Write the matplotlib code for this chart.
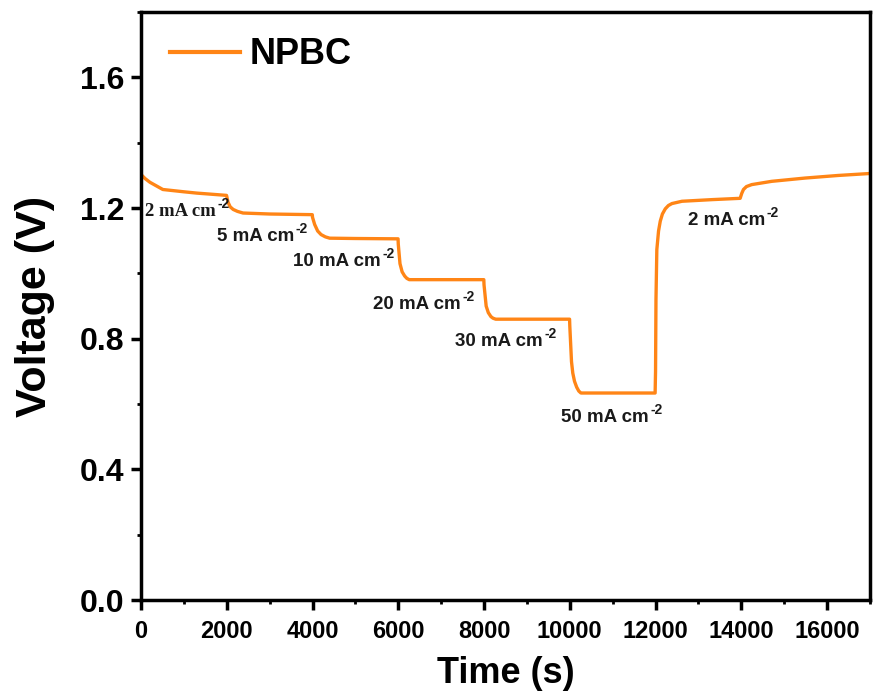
import numpy as np
import matplotlib
matplotlib.use('Agg')
import matplotlib.pyplot as plt
from matplotlib.ticker import MultipleLocator

plt.rcParams['font.family'] = ['Liberation Sans', 'DejaVu Sans']
plt.rcParams['font.weight'] = 'bold'

# galvanostatic discharge
time_s = [0, 100, 210, 510, 1000, 1300, 1600, 1995,
          2000, 2030, 2080, 2150, 2250, 2380, 3000, 3995,
          4000, 4050, 4120, 4200, 4300, 4400, 5000, 5995,
          6000, 6040, 6090, 6150, 6200, 6256, 7000, 7995,
          8000, 8050, 8100, 8160, 8210, 8273, 9000, 9995,
          10000, 10040, 10070, 10110, 10160, 10210, 10260, 11000, 11990,
          12000, 12010, 12030, 12070, 12110, 12160, 12228, 12300, 12383, 12616, 13314, 13973,
          14010, 14050, 14120, 14243, 14708, 15484, 16260, 17000]
voltage_v = [1.303, 1.290, 1.279, 1.257, 1.250, 1.246, 1.243, 1.239,
             1.236, 1.218, 1.204, 1.196, 1.190, 1.185, 1.182, 1.180,
             1.172, 1.150, 1.130, 1.119, 1.112, 1.108, 1.107, 1.106,
             1.090, 1.030, 1.005, 0.992, 0.985, 0.981, 0.981, 0.981,
             0.965, 0.900, 0.880, 0.868, 0.863, 0.860, 0.860, 0.860,
             0.840, 0.730, 0.695, 0.670, 0.652, 0.640, 0.634, 0.634, 0.634,
             0.700, 0.920, 1.073, 1.130, 1.160, 1.182, 1.198, 1.208, 1.214, 1.221, 1.226, 1.230,
             1.245, 1.257, 1.266, 1.272, 1.282, 1.292, 1.300, 1.306]

label_text = ['2 mA cm', '5 mA cm', '10 mA cm', '20 mA cm', '30 mA cm', '50 mA cm', '2 mA cm']
label_t = [95, 1765, 3550, 5420, 7330, 9790, 12750]
label_v = [1.190, 1.112, 1.037, 0.904, 0.791, 0.559, 1.162]
label_serif = [True, False, False, False, False, False, False]

fig = plt.figure(figsize=(8.73, 6.97), dpi=100)
ax = fig.add_axes([0.1615, 0.139, 0.835, 0.8436])

ax.plot(time_s, voltage_v, color='#FF8516', lw=2.4, label='NPBC')

for txt, t, v, serif in zip(label_text, label_t, label_v, label_serif):
    fam = ['Liberation Serif', 'DejaVu Serif'] if serif else ['Liberation Sans', 'DejaVu Sans']
    w = 'bold' if (serif or txt[0] != '5') else 'semibold'
    main = ax.text(t, v, txt, fontsize=13.5, fontweight=w, family=fam,
                   ha='left', va='center', color='#1a1a1a')
    ax.annotate('-2', xy=(1.02, 0.95), xycoords=main, fontsize=10, fontweight=w,
                family=['Liberation Sans', 'DejaVu Sans'], ha='left', va='center',
                color='#1a1a1a')

ax.set_xlim(0, 17000)
ax.set_ylim(0, 1.8)
ax.xaxis.set_major_locator(MultipleLocator(2000))
ax.xaxis.set_minor_locator(MultipleLocator(1000))
ax.yaxis.set_major_locator(MultipleLocator(0.4))
ax.yaxis.set_minor_locator(MultipleLocator(0.2))
ax.yaxis.set_major_formatter(plt.FormatStrFormatter('%.1f'))

for s in ax.spines.values():
    s.set_linewidth(2.5)
ax.tick_params(which='major', direction='out', length=7, width=2.5)
ax.tick_params(which='minor', direction='out', length=3, width=2)
ax.tick_params(axis='x', labelsize=17, pad=7)
ax.tick_params(axis='y', labelsize=23, pad=5)

ax.set_xlabel('Time (s)', fontsize=26, fontweight='bold', labelpad=10)
ax.set_ylabel('Voltage (V)', fontsize=31, fontweight='bold', labelpad=18)

leg = ax.legend(loc='upper left', frameon=False, fontsize=26, handlelength=1.95,
                handletextpad=0.25, borderaxespad=0.3, bbox_to_anchor=(0.005, 1.0))
leg.get_lines()[0].set_linewidth(3)

fig.savefig('out.png', dpi=100)
